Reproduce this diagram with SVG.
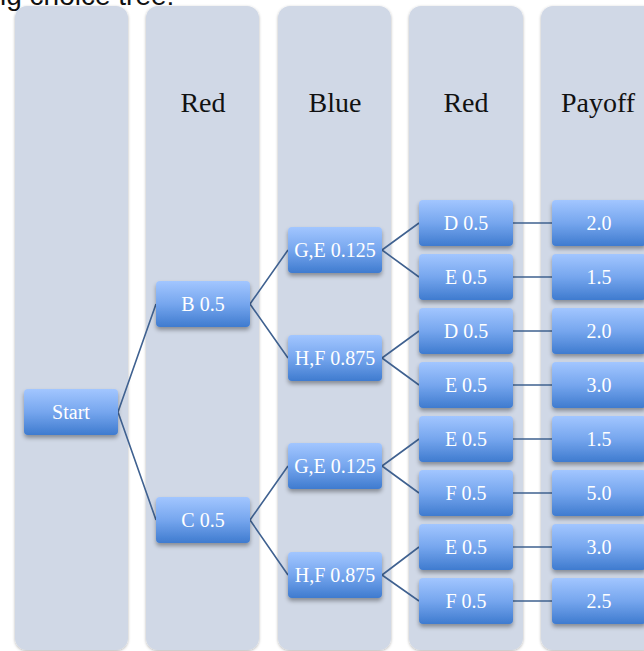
<svg xmlns="http://www.w3.org/2000/svg" width="644" height="651" viewBox="0 0 644 651">
  <defs>
    <linearGradient id="nodeFill" x1="0" y1="0" x2="0" y2="1">
      <stop offset="0" stop-color="#a2c6ff"/>
      <stop offset="0.5" stop-color="#76a6ee"/>
      <stop offset="1" stop-color="#3f7bcf"/>
    </linearGradient>
    <filter id="colShadow" x="-10%" y="-5%" width="120%" height="110%">
      <feDropShadow dx="0" dy="1" stdDeviation="1.6" flood-color="#000" flood-opacity="0.3"/>
    </filter>
    <filter id="nodeShadow" x="-20%" y="-30%" width="140%" height="170%">
      <feDropShadow dx="0" dy="3" stdDeviation="2" flood-color="#000" flood-opacity="0.35"/>
    </filter>
  </defs>
  <style>
    .col { fill: #d0d8e6; filter: url(#colShadow); }
    .hdr { font-family: "Liberation Serif", "DejaVu Serif", serif; font-size: 28px; fill: #111; text-anchor: middle; }
    .box { fill: url(#nodeFill); filter: url(#nodeShadow); }
    .lbl { font-family: "Liberation Serif", "DejaVu Serif", serif; font-size: 20px; fill: #fff; text-anchor: middle; dominant-baseline: central; }
    .edge { stroke: #3f6190; stroke-width: 1.6; fill: none; }
    .cap { font-family: "Liberation Sans", Arial, sans-serif; font-size: 28px; fill: #111; }
  </style>

  <rect width="644" height="651" fill="#fff"/>
  <text class="cap" x="0" y="5">ig choice tree:</text>

  <!-- column lanes -->
  <g id="lanes">
    <rect class="col" x="15" y="6" width="113" height="644" rx="12"/>
    <rect class="col" x="146" y="6" width="113" height="644" rx="12"/>
    <rect class="col" x="278" y="6" width="113" height="644" rx="12"/>
    <rect class="col" x="409" y="6" width="114" height="644" rx="12"/>
    <rect class="col" x="541" y="6" width="114" height="644" rx="12"/>
  </g>

  <g id="headers">
    <text class="hdr" x="203" y="112">Red</text>
    <text class="hdr" x="335" y="112">Blue</text>
    <text class="hdr" x="466" y="112">Red</text>
    <text class="hdr" x="598" y="112">Payoff</text>
  </g>

  <!-- connectors: parent right-middle to child left-middle -->
  <g id="connectors" class="edge">
    <path d="M118,412 L156,304 M118,412 L156,520"/>
    <path d="M250,304 L288,250 M250,304 L288,358 M250,520 L288,466 M250,520 L288,575"/>
    <path d="M382,250 L419,223 M382,250 L419,277 M382,358 L419,331 M382,358 L419,385"/>
    <path d="M382,466 L419,439 M382,466 L419,493 M382,575 L419,547 M382,575 L419,601"/>
    <path d="M513,223 H552 M513,277 H552 M513,331 H552 M513,385 H552 M513,439 H552 M513,493 H552 M513,547 H552 M513,601 H552"/>
  </g>

  <g id="start"><rect class="box" x="24" y="389" width="94" height="46" rx="4"/><text class="lbl" x="71" y="412">Start</text></g>

  <g id="b"><rect class="box" x="156" y="281" width="94" height="46" rx="4"/><text class="lbl" x="203" y="304">B 0.5</text></g>
  <g id="c"><rect class="box" x="156" y="497" width="94" height="46" rx="4"/><text class="lbl" x="203" y="520">C 0.5</text></g>

  <g id="b-ge"><rect class="box" x="288" y="227" width="94" height="46" rx="4"/><text class="lbl" x="335" y="250">G,E 0.125</text></g>
  <g id="b-hf"><rect class="box" x="288" y="335" width="94" height="46" rx="4"/><text class="lbl" x="335" y="358">H,F 0.875</text></g>
  <g id="c-ge"><rect class="box" x="288" y="443" width="94" height="46" rx="4"/><text class="lbl" x="335" y="466">G,E 0.125</text></g>
  <g id="c-hf"><rect class="box" x="288" y="552" width="94" height="46" rx="4"/><text class="lbl" x="335" y="575">H,F 0.875</text></g>

  <g id="r1"><rect class="box" x="419" y="200" width="94" height="46" rx="4"/><text class="lbl" x="466" y="223">D 0.5</text></g>
  <g id="r2"><rect class="box" x="419" y="254" width="94" height="46" rx="4"/><text class="lbl" x="466" y="277">E 0.5</text></g>
  <g id="r3"><rect class="box" x="419" y="308" width="94" height="46" rx="4"/><text class="lbl" x="466" y="331">D 0.5</text></g>
  <g id="r4"><rect class="box" x="419" y="362" width="94" height="46" rx="4"/><text class="lbl" x="466" y="385">E 0.5</text></g>
  <g id="r5"><rect class="box" x="419" y="416" width="94" height="46" rx="4"/><text class="lbl" x="466" y="439">E 0.5</text></g>
  <g id="r6"><rect class="box" x="419" y="470" width="94" height="46" rx="4"/><text class="lbl" x="466" y="493">F 0.5</text></g>
  <g id="r7"><rect class="box" x="419" y="524" width="94" height="46" rx="4"/><text class="lbl" x="466" y="547">E 0.5</text></g>
  <g id="r8"><rect class="box" x="419" y="578" width="94" height="46" rx="4"/><text class="lbl" x="466" y="601">F 0.5</text></g>

  <g id="p1"><rect class="box" x="552" y="200" width="94" height="46" rx="4"/><text class="lbl" x="599" y="223">2.0</text></g>
  <g id="p2"><rect class="box" x="552" y="254" width="94" height="46" rx="4"/><text class="lbl" x="599" y="277">1.5</text></g>
  <g id="p3"><rect class="box" x="552" y="308" width="94" height="46" rx="4"/><text class="lbl" x="599" y="331">2.0</text></g>
  <g id="p4"><rect class="box" x="552" y="362" width="94" height="46" rx="4"/><text class="lbl" x="599" y="385">3.0</text></g>
  <g id="p5"><rect class="box" x="552" y="416" width="94" height="46" rx="4"/><text class="lbl" x="599" y="439">1.5</text></g>
  <g id="p6"><rect class="box" x="552" y="470" width="94" height="46" rx="4"/><text class="lbl" x="599" y="493">5.0</text></g>
  <g id="p7"><rect class="box" x="552" y="524" width="94" height="46" rx="4"/><text class="lbl" x="599" y="547">3.0</text></g>
  <g id="p8"><rect class="box" x="552" y="578" width="94" height="46" rx="4"/><text class="lbl" x="599" y="601">2.5</text></g>
</svg>
